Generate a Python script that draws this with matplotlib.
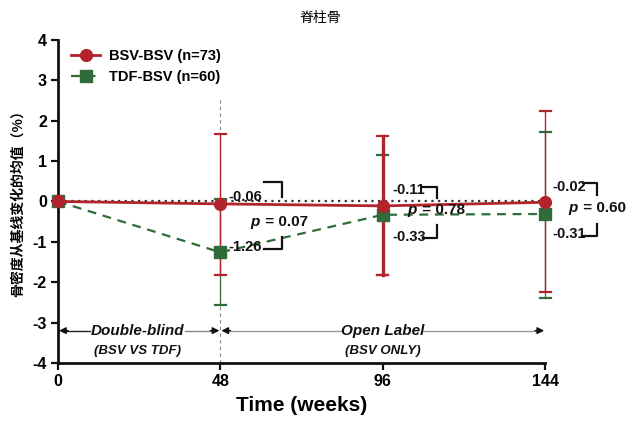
import matplotlib
matplotlib.use("Agg")
import matplotlib.pyplot as plt

plt.rcParams['font.family'] = ['Liberation Sans', 'Noto Sans CJK SC', 'DejaVu Sans']
plt.rcParams['axes.unicode_minus'] = False

weeks = [0, 48, 96, 144]
xtick_labels = ["0", "48", "96", "144"]
yticks = [-4, -3, -2, -1, 0, 1, 2, 3, 4]

bsv_mean = [0.0, -0.06, -0.11, -0.02]
bsv_upper = [0.0, 1.68, 1.61, 2.23]
bsv_lower = [0.0, -1.81, -1.83, -2.25]

tdf_mean = [0.0, -1.26, -0.33, -0.31]
tdf_upper = [0.0, 0.05, 1.16, 1.73]
tdf_lower = [0.0, -2.57, -1.82, -2.38]

bsv_label = "BSV-BSV (n=73)"
tdf_label = "TDF-BSV (n=60)"
title = "脊柱骨"
ylabel = "骨密度从基线变化的均值（%）"
xlabel = "Time (weeks)"

p_values = ["p = 0.07", "p = 0.78", "p = 0.60"]
bsv_val_labels = ["-0.06", "-0.11", "-0.02"]
tdf_val_labels = ["-1.26", "-0.33", "-0.31"]

RED = "#b3232b"
GREEN = "#2f6b3b"

fig = plt.figure(figsize=(6.41, 4.30), dpi=100)
ax = fig.add_axes([0.0905, 0.156, 0.760, 0.751])

# vertical dashed separator at week 48
ax.plot([48, 48], [-4, 2.6], linestyle=(0, (3, 3)), color="#888888", lw=0.8, zorder=1)
# zero reference dotted line
ax.plot([0, 144], [0, 0], linestyle=(0, (1, 2)), color="#333333", lw=1.6, zorder=2, clip_on=False)

# error bars
red_lw = [1.0, 1.0, 2.4, 1.0]
for i, x in enumerate(weeks):
    if i == 0:
        continue
    ax.plot([x, x], [tdf_lower[i], tdf_upper[i]], color=GREEN, lw=0.9, zorder=2, clip_on=False)
    for yy in (tdf_lower[i], tdf_upper[i]):
        ax.plot([x - 1.6, x + 1.6], [yy, yy], color=GREEN, lw=1.6, zorder=2, clip_on=False)
    ax.plot([x, x], [bsv_lower[i], bsv_upper[i]], color=RED, lw=red_lw[i], zorder=3, clip_on=False)
    for yy in (bsv_lower[i], bsv_upper[i]):
        ax.plot([x - 1.6, x + 1.6], [yy, yy], color=RED, lw=1.6, zorder=3, clip_on=False)

# lines
ax.plot(weeks, tdf_mean, linestyle=(0, (4, 3)), color=GREEN, lw=1.6, marker="s",
        markersize=8, markerfacecolor=GREEN, markeredgecolor=GREEN, zorder=4, label=tdf_label,
        clip_on=False)
ax.plot(weeks, bsv_mean, linestyle="-", color=RED, lw=2.0, marker="o",
        markersize=8.5, markerfacecolor=RED, markeredgecolor=RED, zorder=5, label=bsv_label,
        clip_on=False)

# annotations: value labels, brackets, p-values
ann_font = dict(fontsize=10.5, fontweight="bold", color="#111111")
label_x = [50.5, 98.8, 146.1]
br_x = [66.2, 112.1, 159.4]
br_left = [60.8, 108.0, 155.3]
top_txt_y = [0.12, 0.28, 0.36]
top_br_y = [0.48, 0.36, 0.45]
top_br_bot = [0.10, 0.09, 0.16]
bot_txt_y = [-1.13, -0.88, -0.80]
bot_br_top = [-0.88, -0.58, -0.56]
bot_br_y = [-1.18, -0.90, -0.85]
p_x = [65.0, 111.5, 159.0]
p_y = [-0.50, -0.21, -0.16]
for i in range(3):
    ax.text(label_x[i], top_txt_y[i], bsv_val_labels[i], ha="left", va="center", zorder=6,
            clip_on=False, **ann_font)
    ax.text(label_x[i], bot_txt_y[i], tdf_val_labels[i], ha="left", va="center", zorder=6,
            clip_on=False, **ann_font)
    ax.plot([br_left[i], br_x[i], br_x[i]], [top_br_y[i], top_br_y[i], top_br_bot[i]],
            color="#111111", lw=1.6, clip_on=False, zorder=6)
    ax.plot([br_left[i], br_x[i], br_x[i]], [bot_br_y[i], bot_br_y[i], bot_br_top[i]],
            color="#111111", lw=1.6, clip_on=False, zorder=6)
    ptxt = p_values[i]
    ax.text(p_x[i] - 5.5, p_y[i], "p", ha="right", va="center", style="italic",
            fontsize=11, fontweight="bold", color="#111111", zorder=6, clip_on=False)
    ax.text(p_x[i] - 5.0, p_y[i], ptxt[1:], ha="left", va="center",
            fontsize=11, fontweight="bold", color="#111111", zorder=6, clip_on=False)

# phase arrows
arrow_y = -3.2
phase_main = ["Double-blind", "Open Label"]
phase_sub = ["(BSV VS TDF)", "(BSV ONLY)"]
phase_x = [23.5, 96.0]
spans = [(0, 48), (48, 144)]
text_half = [13.0, 11.0]
line_cols = [("#222222", "#888888"), ("#999999", "#999999")]
for i in range(2):
    a, b = spans[i]
    c = phase_x[i]
    ax.plot([a + 1.5, c - text_half[i] - 1], [arrow_y, arrow_y], color=line_cols[i][0], lw=1.0)
    ax.plot([c + text_half[i] + 1, b - 1.5], [arrow_y, arrow_y], color=line_cols[i][1], lw=1.0)
    ax.annotate("", xy=(a + 0.3, arrow_y), xytext=(a + 3.0, arrow_y),
                arrowprops=dict(arrowstyle="-|>", color="#111111", lw=1.0,
                                mutation_scale=10, shrinkA=0, shrinkB=0))
    ax.annotate("", xy=(b - 0.3, arrow_y), xytext=(b - 3.0, arrow_y),
                arrowprops=dict(arrowstyle="-|>", color="#111111", lw=1.0,
                                mutation_scale=10, shrinkA=0, shrinkB=0))
    ax.text(c, arrow_y, phase_main[i], ha="center", va="center", style="italic",
            fontsize=11, fontweight="bold", color="#111111")
    ax.text(c, -3.7, phase_sub[i], ha="center", va="center", style="italic",
            fontsize=9.5, fontweight="bold", color="#111111")

# axes styling
ax.set_xlim(0, 144)
ax.set_ylim(-4, 4)
ax.set_xticks(weeks)
ax.set_xticklabels(xtick_labels)
ax.set_yticks(yticks)
for side in ("top", "right"):
    ax.spines[side].set_visible(False)
for side in ("left", "bottom"):
    ax.spines[side].set_linewidth(2.0)
    ax.spines[side].set_color("#111111")
ax.tick_params(axis="both", length=5, width=1.6, color="#111111", labelsize=11.5, pad=3)
for lab in ax.get_xticklabels() + ax.get_yticklabels():
    lab.set_fontweight("bold")
ax.set_xlabel(xlabel, fontsize=15, fontweight="bold", labelpad=5)

fig.text(0.5, 0.958, title, ha="center", va="center", fontsize=10,
         family=["Noto Sans CJK SC", "DejaVu Sans"])
fig.text(0.027, 0.535, ylabel, ha="center", va="center", rotation=90, fontsize=10,
         fontweight="bold", family=["Noto Sans CJK SC", "DejaVu Sans"])

handles, labels = ax.get_legend_handles_labels()
leg = ax.legend(handles[::-1], labels[::-1], loc="upper left", bbox_to_anchor=(0.015, 0.99),
                frameon=False, handlelength=2.0, handletextpad=0.6, labelspacing=0.45,
                prop=dict(weight="bold", size=10.5), borderaxespad=0)

fig.savefig("out.png", dpi=100)
